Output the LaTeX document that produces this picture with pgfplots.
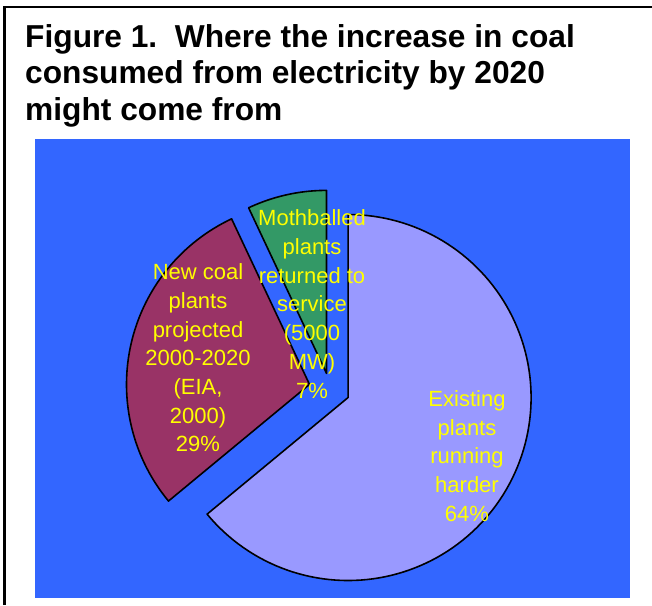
\documentclass[border=0pt]{standalone}
\usepackage{pgfplots}
\pgfplotsset{compat=1.18}
\usepackage{pgfplotstable}
\usepackage{fontspec}
\setmainfont{Liberation Sans}

\definecolor{bgblue}{HTML}{3366FF}
\definecolor{existing}{HTML}{9999FF}
\definecolor{newcoal}{HTML}{993366}
\definecolor{mothball}{HTML}{339966}
\definecolor{labelyellow}{HTML}{FFFF00}

% share of the increase (percent) and how far each wedge is pulled out
\pgfplotstableread{
share explode
64    20
29    21
7     16
}\slices

% pie geometry (axis units = pt)
\def\pieCx{330}
\def\pieCy{389}
\def\pieR{183}

\begin{document}
\begin{tikzpicture}
\pgfplotstablegetelem{0}{share}\of\slices\edef\shareA{\pgfplotsretval}
\pgfplotstablegetelem{1}{share}\of\slices\edef\shareB{\pgfplotsretval}
\pgfplotstablegetelem{2}{share}\of\slices\edef\shareC{\pgfplotsretval}
\pgfplotstablegetelem{0}{explode}\of\slices\edef\exA{\pgfplotsretval}
\pgfplotstablegetelem{1}{explode}\of\slices\edef\exB{\pgfplotsretval}
\pgfplotstablegetelem{2}{explode}\of\slices\edef\exC{\pgfplotsretval}
% wedges run clockwise from 12 o'clock
\pgfmathsetmacro\aAend{90}
\pgfmathsetmacro\aAstart{\aAend-3.6*\shareA}
\pgfmathsetmacro\aBend{\aAstart}
\pgfmathsetmacro\aBstart{\aBend-3.6*\shareB}
\pgfmathsetmacro\aCend{\aBstart}
\pgfmathsetmacro\aCstart{\aCend-3.6*\shareC}
\pgfmathsetmacro\oAx{\pieCx+\exA*cos((\aAstart+\aAend)/2)}
\pgfmathsetmacro\oAy{\pieCy-\exA*sin((\aAstart+\aAend)/2)}
\pgfmathsetmacro\oBx{\pieCx+\exB*cos((\aBstart+\aBend)/2)}
\pgfmathsetmacro\oBy{\pieCy-\exB*sin((\aBstart+\aBend)/2)}
\pgfmathsetmacro\oCx{\pieCx+\exC*cos((\aCstart+\aCend)/2)}
\pgfmathsetmacro\oCy{\pieCy-\exC*sin((\aCstart+\aCend)/2)}
% frame
\draw[line width=2.2pt] (4.5pt,0pt) -- (4.5pt,598pt) -- (652pt,598pt);
% title
\begin{scope}[every node/.style={anchor=base west, inner sep=0pt,
    font=\fontsize{31.7}{36.5}\selectfont\bfseries}]
\node at (25pt,557.5pt) {Figure 1.\ \ Where the increase in coal};
\node at (25pt,521pt) {consumed from electricity by 2020};
\node at (25pt,484.5pt) {might come from};
\end{scope}
\begin{axis}[
    at={(35pt,7pt)}, anchor=south west,
    width=595pt, height=459pt, scale only axis,
    xmin=35, xmax=630, ymin=139, ymax=598, y dir=reverse,
    axis line style={draw=none}, xtick=\empty, ytick=\empty,
    axis background/.style={fill=bgblue},
    clip=false,
    every axis plot/.append style={draw=black, line width=1.6pt, line join=round, samples=120},
]
\addplot[fill=existing, domain=\aAstart:\aAend]
    ({\oAx+\pieR*cos(x)},{\oAy-\pieR*sin(x)}) -- (axis cs:\oAx,\oAy) -- cycle;
\addplot[fill=newcoal, domain=\aBstart:\aBend]
    ({\oBx+\pieR*cos(x)},{\oBy-\pieR*sin(x)}) -- (axis cs:\oBx,\oBy) -- cycle;
\addplot[fill=mothball, domain=\aCstart:\aCend]
    ({\oCx+\pieR*cos(x)},{\oCy-\pieR*sin(x)}) -- (axis cs:\oCx,\oCy) -- cycle;
\begin{scope}[every node/.style={align=center, text=labelyellow, inner sep=0pt,
    font=\fontsize{22}{28.7}\selectfont}]
\node at (axis cs:467,456) {Existing\\plants\\running\\harder\\64\%};
\node at (axis cs:198,358) {New coal\\plants\\projected\\2000-2020\\(EIA,\\2000)\\29\%};
\node at (axis cs:312,304) {Mothballed\\plants\\returned to\\service\\(5000\\MW)\\7\%};
\end{scope}
\end{axis}
% page = 652 x 605
\pgfresetboundingbox
\path[use as bounding box] (0pt,0pt) rectangle (652pt,605pt);
\end{tikzpicture}
\end{document}
